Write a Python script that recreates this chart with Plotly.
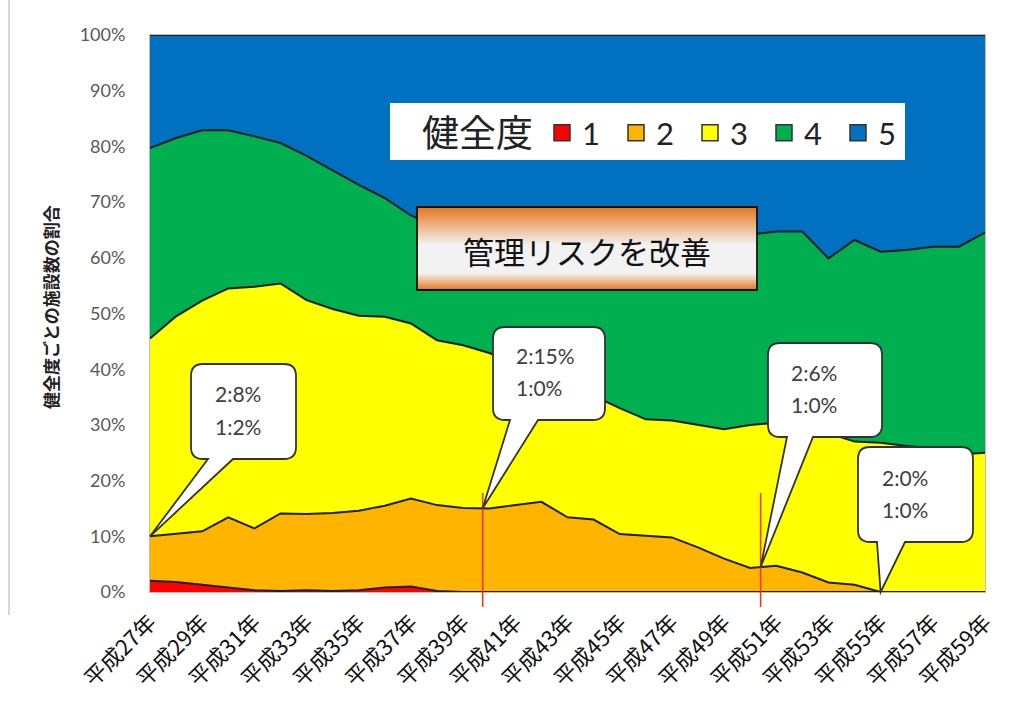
import numpy as np
import plotly.graph_objects as go

# ---- data: share of facilities by soundness grade (%), 平成27年 .. 平成59年 ----
YEARS = ["平成27年", "平成28年", "平成29年", "平成30年", "平成31年", "平成32年", "平成33年",
         "平成34年", "平成35年", "平成36年", "平成37年", "平成38年", "平成39年", "平成40年",
         "平成41年", "平成42年", "平成43年", "平成44年", "平成45年", "平成46年", "平成47年",
         "平成48年", "平成49年", "平成50年", "平成51年", "平成52年", "平成53年", "平成54年",
         "平成55年", "平成56年", "平成57年", "平成58年", "平成59年"]
TICK_LABELS = ["平成27年", "平成29年", "平成31年", "平成33年", "平成35年", "平成37年",
               "平成39年", "平成41年", "平成43年", "平成45年", "平成47年", "平成49年",
               "平成51年", "平成53年", "平成55年", "平成57年", "平成59年"]

GRADE_1 = [2.0, 1.8, 1.3, 0.8, 0.3, 0.2, 0.3, 0.2, 0.3, 0.8, 1.0, 0.2, 0, 0, 0, 0, 0,
           0, 0, 0, 0, 0, 0, 0, 0, 0, 0, 0, 0, 0, 0, 0, 0]
GRADE_2 = [8.0, 8.6, 9.6, 12.6, 11.1, 13.9, 13.7, 14.0, 14.3, 14.7, 15.8, 15.4, 15.1, 15.0,
           15.6, 16.2, 13.4, 13.0, 10.4, 10.1, 9.8, 8.0, 6.0, 4.3, 4.7, 3.5, 1.7, 1.3,
           0, 0, 0, 0, 0]
GRADE_3 = [35.5, 39.1, 41.4, 41.1, 43.4, 41.3, 38.4, 36.6, 35.0, 33.9, 31.4, 29.6, 29.2,
           27.9, 25.4, 22.3, 23.4, 22.2, 22.6, 20.9, 21.0, 22.0, 23.2, 25.7, 25.7, 26.0,
           26.8, 25.7, 26.8, 26.2, 25.8, 24.7, 25.0]
GRADE_4 = [34.2, 32.0, 30.6, 28.4, 27.0, 25.2, 25.9, 24.9, 23.5, 21.3, 19.4, 20.3, 20.2,
           20.9, 22.3, 24.5, 26.2, 28.0, 30.5, 32.7, 33.0, 34.0, 34.8, 34.2, 34.3, 35.2,
           31.4, 36.2, 34.3, 35.2, 36.2, 37.3, 39.5]
GRADE_5 = [20.3, 18.5, 17.1, 17.1, 18.2, 19.4, 21.7, 24.3, 26.9, 29.3, 32.4, 34.5, 35.5,
           36.2, 36.7, 37.0, 37.0, 36.8, 36.5, 36.3, 36.2, 36.0, 36.0, 35.8, 35.3, 35.3,
           40.1, 36.8, 38.9, 38.6, 38.0, 38.0, 35.5]

GRADE_NAMES = ["1", "2", "3", "4", "5"]
GRADE_COLORS = ["#FF0000", "#FFB400", "#FFFF00", "#00B050", "#0070C0"]

# milestones marked with red lines (position on the year axis)
MILESTONES = [12.75, 23.4]
# callouts: (x position on year axis, text lines)
CALLOUT_X = [0, 12.75, 23.4, 28]
CALLOUT_TEXT = [["2:8%", "1:2%"], ["2:15%", "1:0%"], ["2:6%", "1:0%"], ["2:0%", "1:0%"]]

# ---- geometry of the figure (pixels) ----
W, H = 1029, 705
L, R, T, B = 150, 44, 35, 113
PW, PH = W - L - R, H - T - B
NX = len(YEARS) - 1


def px(x):      # pixel x -> paper
    return (x - L) / PW


def py(y):      # pixel y -> paper
    return (H - B - y) / PH


def dx(x):      # axis x -> paper
    return x / NX


def dy(y):      # axis percent -> paper
    return y / 100.0


xs = list(range(len(YEARS)))
series = [GRADE_1, GRADE_2, GRADE_3, GRADE_4, GRADE_5]

fig = go.Figure()
for name, vals, col in zip(GRADE_NAMES, series, GRADE_COLORS):
    fig.add_trace(go.Scatter(
        x=xs, y=vals, name=name, mode="lines", stackgroup="one", groupnorm="percent",
        line=dict(color="#1e1e1e", width=2), fillcolor=col, showlegend=False,
        hoverinfo="skip"))
# legend swatches
for name, col in zip(GRADE_NAMES, GRADE_COLORS):
    fig.add_trace(go.Scatter(
        x=[None], y=[None], name=name, mode="markers",
        marker=dict(symbol="square", size=20, color=col, line=dict(color="#333", width=1.5))))

shapes = []
annotations = []

# red milestone lines
for m in MILESTONES:
    shapes.append(dict(type="line", xref="paper", yref="paper",
                       x0=dx(m), x1=dx(m), y0=py(607), y1=py(493),
                       line=dict(color="#FF3000", width=1.5)))

# callout bubbles pointing at the top of grade 2
cum2 = np.array(GRADE_1) + np.array(GRADE_2)
BOXES = [(191, 364, 296, 459, 208, 233),
         (493, 327, 605, 420, 510, 538),
         (768, 343, 882, 437, 787, 813),
         (858, 447, 973, 542, 877, 905)]
TEXT_POS = [(213, 393, 426), (514, 355, 387), (789, 372, 404), (880, 477, 509)]


def bubble_path(box, tip):
    x0, y0, x1, y1, b0, b1 = box
    r = 12
    X = lambda v: f"{px(v):.5f}"
    Y = lambda v: f"{py(v):.5f}"
    tx, ty = tip
    p = (f"M{X(x0 + r)},{Y(y0)} L{X(x1 - r)},{Y(y0)} Q{X(x1)},{Y(y0)} {X(x1)},{Y(y0 + r)} "
         f"L{X(x1)},{Y(y1 - r)} Q{X(x1)},{Y(y1)} {X(x1 - r)},{Y(y1)} "
         f"L{X(b1)},{Y(y1)} L{tx:.5f},{ty:.5f} L{X(b0)},{Y(y1)} "
         f"L{X(x0 + r)},{Y(y1)} Q{X(x0)},{Y(y1)} {X(x0)},{Y(y1 - r)} "
         f"L{X(x0)},{Y(y0 + r)} Q{X(x0)},{Y(y0)} {X(x0 + r)},{Y(y0)} Z")
    return p


for cx, lines, box, tp in zip(CALLOUT_X, CALLOUT_TEXT, BOXES, TEXT_POS):
    tip = (dx(cx), dy(float(np.interp(cx, xs, cum2))))
    shapes.append(dict(type="path", xref="paper", yref="paper", path=bubble_path(box, tip),
                       fillcolor="white", line=dict(color="#333333", width=1.8)))
    for txt, yy in zip(lines, tp[1:]):
        annotations.append(dict(xref="paper", yref="paper", x=px(tp[0]), y=py(yy),
                                xanchor="left", yanchor="middle", showarrow=False, text=txt,
                                font=dict(family="Lato", size=21, color="#404040")))

# gradient banner: overlapping horizontal strips on a light base
bx0, by0, bx1, by1 = 417, 207, 757, 290
orange = np.array([232, 118, 30])
light = np.array([242, 242, 242])
shapes.append(dict(type="rect", xref="paper", yref="paper", x0=px(bx0), x1=px(bx1),
                   y0=py(by1), y1=py(by0), line=dict(width=0), fillcolor="rgb(242,242,242)"))
n = 40
for k in range(n):
    ya = by0 + (by1 - by0) * k / n
    yb = min(by1, ya + (by1 - by0) / n + 1.2)
    t = (k + 0.5) / n
    if t < 0.45:
        f = min(1.0, t / 0.45)
    elif t < 0.8:
        f = 1.0
    else:
        f = max(0.0, (1 - t) / 0.2)
    c = orange + (light - orange) * f
    shapes.append(dict(type="rect", xref="paper", yref="paper", x0=px(bx0), x1=px(bx1),
                       y0=py(yb), y1=py(ya), line=dict(width=0),
                       fillcolor=f"rgb({int(c[0])},{int(c[1])},{int(c[2])})"))
shapes.append(dict(type="rect", xref="paper", yref="paper", x0=px(bx0), x1=px(bx1),
                   y0=py(by1), y1=py(by0), line=dict(color="#111", width=1.8)))
annotations.append(dict(xref="paper", yref="paper", x=px((bx0 + bx1) / 2), y=py(250),
                        xanchor="center", yanchor="middle", showarrow=False,
                        text="管理リスクを改善",
                        font=dict(family="Noto Sans CJK JP", size=31, color="#111")))

# legend panel and its heading
shapes.append(dict(type="rect", xref="paper", yref="paper", x0=px(390), x1=px(905),
                   y0=py(160), y1=py(103), line=dict(width=0), fillcolor="white"))
annotations.append(dict(xref="paper", yref="paper", x=px(420), y=py(131), xanchor="left",
                        yanchor="middle", showarrow=False, text="健全度",
                        font=dict(family="Noto Sans CJK JP", size=37, color="#222")))

# y axis title
annotations.append(dict(xref="paper", yref="paper", x=px(50), y=py(307), xanchor="center",
                        yanchor="middle", textangle=-90, showarrow=False,
                        text="<b>健全度ごとの施設数の割合</b>",
                        font=dict(family="Noto Sans CJK JP", size=17, color="#222")))

# outer frame line on the left
shapes.append(dict(type="line", xref="paper", yref="paper", x0=px(9), x1=px(9),
                   y0=py(0), y1=py(615), line=dict(color="#C8C8C8", width=1.5)))

fig.update_layout(
    width=W, height=H, margin=dict(l=L, r=R, t=T, b=B, autoexpand=False),
    paper_bgcolor="white", plot_bgcolor="white",
    shapes=shapes, annotations=annotations,
    showlegend=True,
    legend=dict(orientation="h", x=px(542), y=py(106), xanchor="left", yanchor="top",
                bgcolor="rgba(0,0,0,0)", borderwidth=0, traceorder="normal",
                font=dict(family="Lato", size=31, color="#222"),
                itemsizing="trace", entrywidth=29, entrywidthmode="pixels"),
    xaxis=dict(range=[0, NX], tickmode="array", tickvals=list(range(0, NX + 1, 2)),
               ticktext=TICK_LABELS, tickangle=-45, showgrid=False, zeroline=False,
               ticks="outside", ticklen=8, tickcolor="rgba(0,0,0,0)",
               showline=True, mirror=True, linecolor="#BDBDBD", linewidth=1,
               tickfont=dict(family="Noto Sans CJK JP", size=22, color="#111")),
    yaxis=dict(range=[0, 100], tickmode="array", tickvals=list(range(0, 101, 10)),
               ticktext=[f"{v}%" for v in range(0, 101, 10)], showgrid=False,
               zeroline=False, ticks="outside", ticklen=20, tickcolor="rgba(0,0,0,0)",
               showline=True, mirror=True, linecolor="#BDBDBD", linewidth=1,
               tickfont=dict(family="Lato", size=18, color="#595959")),
)

fig.write_html("out.html")
